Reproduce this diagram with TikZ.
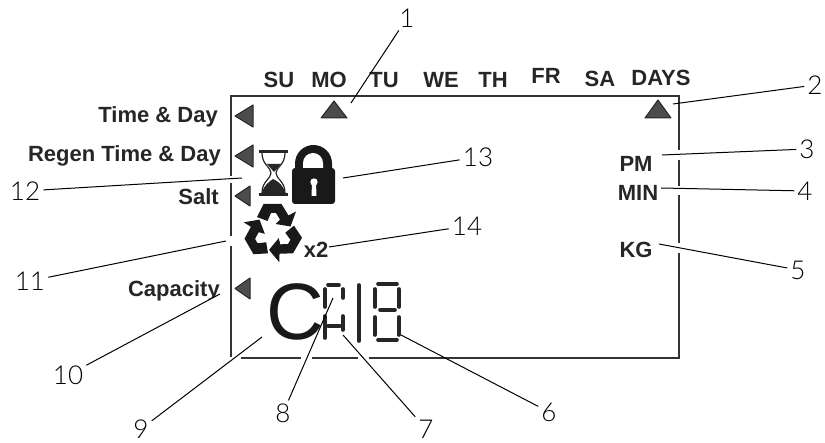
\documentclass[tikz,border=0pt]{standalone}
\usepackage{fontspec}
\setmainfont{Liberation Sans}
\newfontfamily\numfont{Lato Light}
\usepackage{tikz}
\usetikzlibrary{arrows.meta,positioning}

\begin{document}
\begin{tikzpicture}[
      x=1pt,y=-1pt,
      dayname/.style={
         font=\fontsize{22}{22}\selectfont\bfseries,
         text=black!85,
         inner sep=0pt},
      sidename/.style={dayname,anchor=east},
      calloutnum/.style={
         font=\fontsize{26}{26}\selectfont\numfont,
         inner sep=3pt},
      myleader/.style={draw=black,line width=1pt},
      myframe/.style={draw=black!80,line width=2.4pt},
      mymarker/.style={fill=black!70,draw=black!85,line width=1pt,line join=round},
      mysegment/.style={draw=black!85,line width=3.6pt,line cap=round},
      ]
\useasboundingbox (0,0) rectangle (825,443);

% display frame
\draw[myframe] (231,176) -- (231,96) -- (679,96) -- (679,150);
\draw[myframe] (679,160) -- (679,186);
\draw[myframe] (679,195) -- (679,243);
\draw[myframe] (679,253) -- (679,358) -- (369,358);
\draw[myframe] (358,358) -- (312,358);
\draw[myframe] (301,358) -- (241,358);
\draw[myframe] (231,183) -- (231,236);
\draw[myframe] (231,246) -- (231,357);

% day names
\foreach \i/\x/\y/\t in {su/279/80/SU,mo/329/80/MO,tu/384/80/TU,we/441/80/WE,
      th/493/80/TH,fr/546/76/FR,sa/600/79/SA,days/661/78/DAYS}
       \node[dayname] (\i) at (\x,\y) {\t};

% side names
\node[sidename] (time) at (218,117) {Time \& Day};
\node[sidename] (regen) at (221,156) {Regen Time \& Day};
\node[sidename] (salt) at (219,197) {Salt};
\node[sidename] (capacity) at (220,291) {Capacity};
\fill[white] (221,294) -- (195,307) -- (221,307) -- cycle;
\node[dayname] (pm) at (636,164) {PM};
\node[dayname] (min) at (638,193) {MIN};
\node[dayname] (kg) at (636,250) {KG};
\node[dayname] (x2) at (316,250) {x2};

% markers
\foreach \a/\b in {105/127,145/167}
       \draw[mymarker] (253,\a) -- (253,\b) -- (235,{(\a+\b)/2}) -- cycle;
\foreach \a/\b in {186/206,278/299}
       \draw[mymarker] (250,\a) -- (250,\b) -- (235,{(\a+\b)/2}) -- cycle;
\draw[mymarker] (321,118) -- (347,118) -- (334,101) -- cycle;
\draw[mymarker] (645,118) -- (671,118) -- (658,100) -- cycle;

% hourglass
\fill[black!85] (259,150) rectangle (288,153);
\fill[black!85] (259,193) rectangle (288,196);
\draw[black!85,line width=1.2pt] (262,153) .. controls (262,165) and (271,167) .. (271,173)
      .. controls (271,179) and (262,181) .. (262,193);
\draw[black!85,line width=1.2pt] (285,153) .. controls (285,165) and (276,167) .. (276,173)
      .. controls (276,179) and (285,181) .. (285,193);
\fill[black!85] (262,193) .. controls (263,186) and (270,181) .. (273,179)
      .. controls (278,181) and (284,186) .. (285,193) -- cycle;
\fill[black!85] (267,164) -- (281,164) -- (274,172) -- cycle;

% lock
\fill[black!90,rounded corners=3pt] (292,168) rectangle (335,204);
\fill[black!90] (295,170) -- (295,163.5) arc[start angle=180,end angle=360,radius=18.5] -- (332,170) -- cycle;
\fill[white] (303,168) -- (303,163) arc[start angle=180,end angle=360,radius=10] -- (323,168) -- cycle;
\fill[white] (314,182) circle (3.7);
\fill[white] (312,183) -- (316,183) -- (316.5,196) -- (311.5,196) -- cycle;

% recycling arrows
\begin{scope}[shift={(273,232)}]
\foreach \a in {0,120,240}
       \fill[black!90,rotate=\a] (-16,-15) -- (-9.5,-28) -- (8.5,-28) -- (15.5,-16.5) -- (23,-20.5)
             -- (17.5,-5.5) -- (2.5,-8) -- (7,-12.5) -- (3,-19) -- (-2,-19) -- (-5.5,-11) -- cycle;
\end{scope}

% display characters
\node[inner sep=0pt,font=\fontsize{80}{80}\selectfont,text=black!90] (bigc) at (295,312) {C};
\draw[mysegment] (328,285) -- (339,285);
\draw[mysegment] (325,289) -- (325,307);
\draw[mysegment] (343,289) -- (343,298);
\draw[mysegment] (325,316) -- (325,338);
\draw[mysegment] (343,316) -- (343,330);
\draw[mysegment] (328,326) -- (340,326);
\draw[mysegment] (359,285) -- (359,341);
\foreach \x/\y/\u in {378/284/397,380/310/395,378/340/397}
       \draw[mysegment] (\x,\y) -- (\u,\y);
\foreach \x/\y/\v in {375/289/307,399/289/307,375/317/335,399/317/335}
       \draw[mysegment] (\x,\y) -- (\x,\v);

% callouts
\foreach \i/\x/\y in {1/407/18,2/815/85,3/807/149,4/805/191,5/798/270,6/549/412,7/426/429,
      8/283/413,9/141/429,10/68/375,11/30/281,12/25/191,13/478/157,14/467/226}
       \node[calloutnum] (n\i) at (\x,\y) {\i};

\foreach \i/\x/\y in {1/351/103,2/673/104,3/662/155,4/661/188,5/659/244,6/401/335,7/343/335,
      8/333/298,9/262/337,10/220/294,11/226/241,12/242/178,13/343/178,14/329/247}
       \coordinate (e\i) at (\x,\y);
\foreach \i in {1,...,14}
       \draw[myleader] (e\i) -- (n\i);

\end{tikzpicture}
\end{document}
